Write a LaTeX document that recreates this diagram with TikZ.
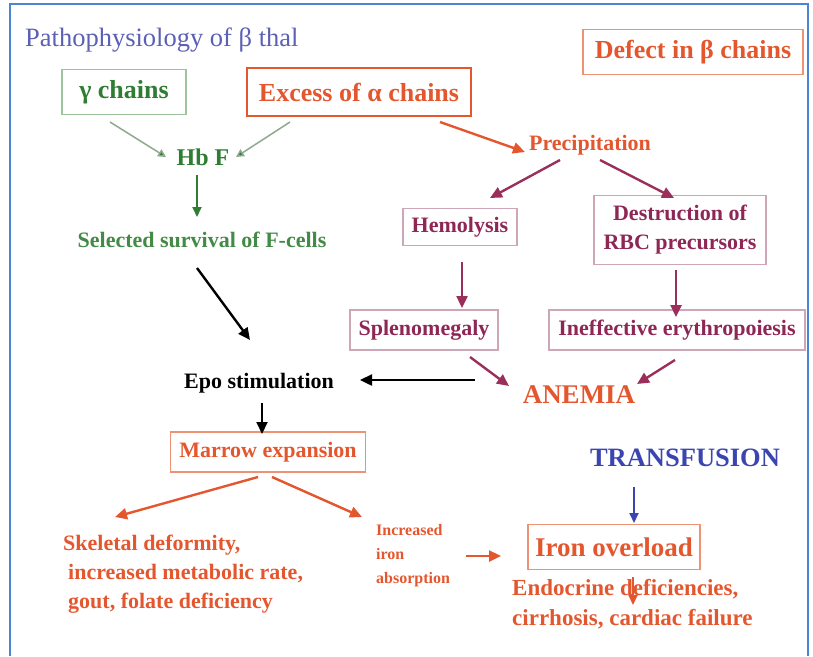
\documentclass[tikz,border=0pt]{standalone}
\usepackage{fontspec}
\setmainfont{Liberation Serif}
\usetikzlibrary{arrows.meta,calc}

\definecolor{frameblue}{HTML}{4A84D4}
\definecolor{titleblue}{HTML}{5B5FB5}
\definecolor{orng}{HTML}{E4572E}
\definecolor{orngbox}{HTML}{EE9274}
\definecolor{grn}{HTML}{2E7D32}
\definecolor{grnbox}{HTML}{9CC39C}
\definecolor{grnarrow}{HTML}{8FA88F}
\definecolor{mag}{HTML}{8E2756}
\definecolor{magarrow}{HTML}{9B2F5C}
\definecolor{magbox}{HTML}{CDA6B8}
\definecolor{trblue}{HTML}{3B45B0}

\tikzset{
  fs/.style={font=\fontsize{#1}{#1}\selectfont\bfseries},
  lbl/.style={inner sep=0pt, align=center},
  boxed/.style={draw=#1, line width=1.2pt, inner sep=0pt, align=center},
  arr/.style={draw=#1, line width=2.4pt, -{Triangle[length=12pt,width=11pt]}},
  thinarr/.style={draw=grnarrow, line width=1.5pt, -{Triangle[length=8pt,width=8pt,fill=grn]}},
}

\begin{document}
\begin{tikzpicture}[x=1pt,y=-1pt]
\useasboundingbox (0,0) rectangle (813,656);

% outer frame (open at the bottom)
\draw[frameblue, line width=2.5pt] (10,656) -- (10,4) -- (808,4) -- (808,656);

% title and headline box
\node[lbl, anchor=west, text=titleblue, font=\fontsize{26.5}{26.5}\selectfont] (title) at (25,40) {Pathophysiology of β thal};
\node[boxed=orngbox, line width=1.8pt, text=orng, fs=26, minimum width=220, minimum height=45] (defect) at (693,52) {Defect in β chains};

% top row
\node[boxed=grnbox, text=grn, fs=26, minimum width=124, minimum height=45] (gam) at (124,92) {γ chains};
\node[boxed=orng, line width=2pt, text=orng, fs=26, minimum width=224, minimum height=48] (exc) at (359,92) {Excess of α chains};

% left branch
\node[lbl, text=grn, fs=24] (hbf) at (203,157) {Hb F};
\node[lbl, text=grn!90!white, fs=22] (sel) at (202,240) {Selected survival of F-cells};
\node[lbl, text=black, fs=22] (epo) at (259,383) {Epo stimulation};
\node[boxed=orngbox, text=orng, fs=22, minimum width=195, minimum height=40] (marrow) at (268,452) {Marrow expansion};
\node[lbl, anchor=west, align=left, text=orng, font=\fontsize{22}{29}\selectfont\bfseries] (skel) at (63,574)
  {Skeletal deformity,\\\hspace*{5pt}increased metabolic rate,\\\hspace*{5pt}gout, folate deficiency};
\node[lbl, anchor=west, align=left, text=orng, font=\fontsize{16}{24}\selectfont\bfseries] (absorb) at (376,556)
  {Increased\\iron\\absorption};

% right branch
\node[lbl, text=orng, fs=22] (prec) at (590,145) {Precipitation};
\node[boxed=magbox, text=mag, fs=22, minimum width=114, minimum height=37] (hemo) at (460,227) {Hemolysis};
\node[boxed=magbox, text=mag, font=\fontsize{22}{29}\selectfont\bfseries, minimum width=172, minimum height=69] (destr) at (680,230) {Destruction of\\RBC precursors};
\node[boxed=magbox, text=mag, fs=22, minimum width=148, minimum height=40] (spleno) at (424,330) {Splenomegaly};
\node[boxed=magbox, text=mag, fs=22, minimum width=256, minimum height=40] (ineff) at (677,330) {Ineffective erythropoiesis};
\node[lbl, text=orng, fs=27] (anem) at (579,395) {ANEMIA};

% transfusion and iron overload
\node[lbl, text=trblue, fs=26.5] (trans) at (685,458) {TRANSFUSION};
\node[boxed=orngbox, text=orng, fs=27, minimum width=172, minimum height=45] (iron) at (614,547) {Iron overload};
\node[lbl, anchor=west, align=left, text=orng, font=\fontsize{23}{30}\selectfont\bfseries] (endo) at (512,604)
  {Endocrine deficiencies,\\cirrhosis, cardiac failure};

% connectors
\draw[thinarr] ($(gam)+(-14,30)$) -- ($(hbf)+(-37,0)$);
\draw[thinarr] ($(exc)+(-69,30)$) -- ($(hbf)+(33,0)$);
\draw[arr=grn, line width=1.8pt, -{Triangle[length=10pt,width=9pt]}] ($(hbf)+(-6,18)$) -- ($(sel)+(-5,-23)$);
\draw[arr=black] ($(sel)+(-5,28)$) -- ($(epo)+(-9,-43)$);
\draw[arr=black] ($(anem)+(-104,-15)$) -- ($(epo)+(101,-3)$);
\draw[arr=black, line width=2pt] ($(epo)+(3,20)$) -- ($(marrow)+(-6,-18)$);
\draw[arr=orng] ($(marrow)+(-10,25)$) -- ($(skel.west)+(52,-57)$);
\draw[arr=orng] ($(marrow)+(4,25)$) -- ($(absorb.west)+(-14,-39)$);
\draw[arr=orng] ($(absorb.west)+(90,0)$) -- ($(iron)+(-113,9)$);
\draw[arr=trblue, line width=1.8pt, -{Triangle[length=10pt,width=9pt]}] ($(trans)+(-51,29)$) -- ($(iron)+(20,-24)$);
\draw[arr=orng, line width=1.8pt, -{Triangle[length=10pt,width=9pt]}] ($(iron)+(19,30)$) -- ($(endo.west)+(121,1)$);
\draw[arr=orng] ($(exc)+(81,30)$) -- ($(prec)+(-65,7)$);
\draw[arr=magarrow] ($(prec)+(-30,15)$) -- ($(hemo)+(30,-29)$);
\draw[arr=magarrow] ($(prec)+(10,15)$) -- ($(destr)+(-6,-32)$);
\draw[arr=magarrow] ($(hemo)+(2,35)$) -- ($(spleno)+(38,-22)$);
\draw[arr=magarrow] ($(destr)+(-4,40)$) -- ($(ineff)+(-1,-13)$);
\draw[arr=magarrow] ($(spleno)+(46,27)$) -- ($(anem)+(-70,-9)$);
\draw[arr=magarrow] ($(ineff)+(-2,30)$) -- ($(anem)+(58,-11)$);
\end{tikzpicture}
\end{document}
